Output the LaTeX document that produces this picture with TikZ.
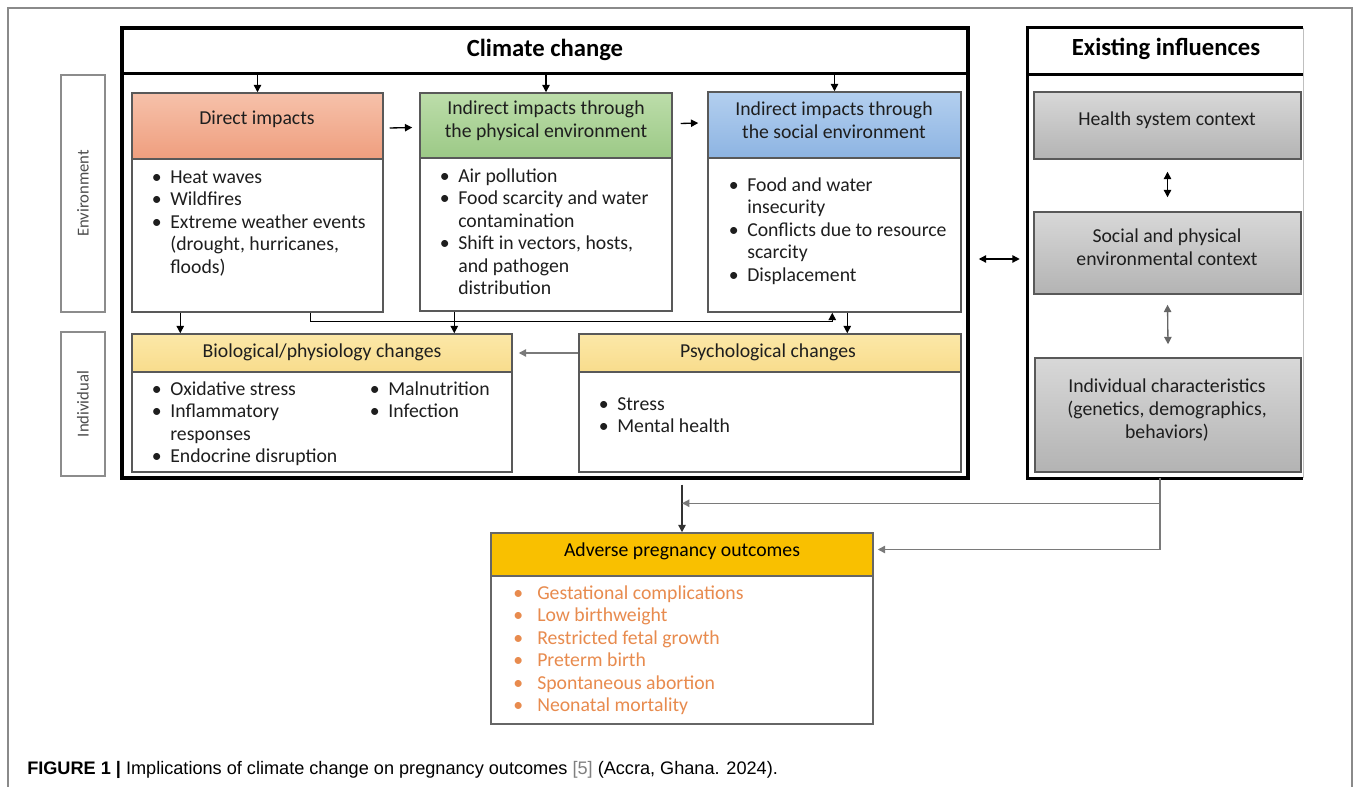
\documentclass[tikz,border=0pt]{standalone}
\usepackage{fontspec}
\setmainfont{Carlito}
\newfontfamily\capfont{Liberation Sans}
\usetikzlibrary{arrows.meta,fit,calc}
\definecolor{bord}{HTML}{595959}
\definecolor{tx}{HTML}{1E1E1E}
\definecolor{dirT}{HTML}{F6C1AA}
\definecolor{dirB}{HTML}{EF9E7E}
\definecolor{grT}{HTML}{BCDDAA}
\definecolor{grB}{HTML}{9CC986}
\definecolor{blT}{HTML}{B3CFEF}
\definecolor{blB}{HTML}{8DB4E2}
\definecolor{yelT}{HTML}{FCE8A8}
\definecolor{yelB}{HTML}{F8DC8C}
\definecolor{gyT}{HTML}{D8D8D8}
\definecolor{gyB}{HTML}{B3B3B3}
\definecolor{advY}{HTML}{F9C000}
\definecolor{org}{HTML}{E88B4E}
\definecolor{frame}{HTML}{8A8A8A}
\definecolor{lbord}{HTML}{8C8C8C}
\definecolor{conn}{HTML}{7A7A7A}
\definecolor{capgray}{HTML}{808080}
\newcommand{\bu}{\makebox[13.9pt][l]{\textbullet}}
\newcommand{\ind}{\hspace*{13.9pt}}
\newcommand{\bua}{\makebox[18pt][l]{\textbullet}}
\begin{document}
\begin{tikzpicture}[x=0.75pt,y=-0.75pt,
  box/.style={draw=bord,line width=1.1pt,inner sep=0pt},
  arr/.style={-{Triangle[length=5.5pt,width=5.5pt]},line width=1pt,draw=black},
  garr/.style={-{Triangle[length=5.5pt,width=5.5pt]},line width=1pt,draw=conn},
  darr/.style={{Triangle[length=5.5pt,width=5.5pt]}-{Triangle[length=5.5pt,width=5.5pt]},line width=1pt},
  txt/.style={font=\fontsize{14.8}{16.9}\selectfont,text=tx,inner sep=0pt},
  lst/.style={txt,align=left,anchor=north west},
  hd/.style={txt,align=center},
  ttl/.style={font=\bfseries\fontsize{18.5}{22}\selectfont,text=black,inner sep=0pt},
  side/.style={draw=lbord,line width=1pt,inner sep=0pt},
  sidet/.style={rotate=90,font=\fontsize{12.5}{14}\selectfont,text=black!70,inner sep=0pt},
]
\useasboundingbox (0,0) rectangle (1355,787);
\fill[white] (0,0) rectangle (1355,787);
% outer frame
\draw[frame,line width=0.8pt] (8,787) -- (8,8) -- (1352,8) -- (1352,787);

% side labels
\node[side,fit={(61,75)(105,312)}] (envbox) {};
\node[sidet] (envt) at (envbox.center) {Environment};
\node[side,fit={(61,332)(105,476)}] (indbox) {};
\node[sidet] (indt) at (indbox.center) {Individual};

% climate change box
\node[draw=black,line width=2.6pt,inner sep=0pt,fit={(122,28)(968,478)}] (cc) {};
\coordinate (ccl) at ($(cc.north west)+(0,47)$);
\coordinate (ccr) at ($(cc.north east)+(0,47)$);
\draw[line width=2.6pt] (ccl) -- (ccr);
\node[ttl] (cct) at (545,50) {Climate change};

% existing influences box
\node[inner sep=0pt,fit={(1028,28)(1303,478)}] (ex) {};
\draw[line width=2.6pt] (ex.north east) -- (ex.north west) -- (ex.south west) -- (ex.south east);
\draw[black!25,line width=0.8pt] (ex.north east) -- (ex.south east);
\coordinate (exl) at ($(ex.north west)+(0,47)$);
\coordinate (exr) at ($(ex.north east)+(0,47)$);
\draw[line width=2.6pt] (exl) -- (exr);
\node[ttl] (ext) at (1166,49) {Existing influences};

% environment row
\node[box,fill=white,fit={(132,159)(383,312)}] (dirB) {};
\node[box,top color=dirT,bottom color=dirB,fit={(132,93)(383,159)}] (dirH) {};
\node[box,fill=white,fit={(420,158)(672,311)}] (physB) {};
\node[box,top color=grT,bottom color=grB,fit={(420,93)(672,158)}] (physH) {};
\node[box,fill=white,fit={(708,158)(961,312)}] (socB) {};
\node[box,top color=blT,bottom color=blB,fit={(708,92)(961,158)}] (socH) {};

\node[hd] (dirHt) at (257,119) {Direct impacts};
\node[hd] (physHt) at (546,121) {Indirect impacts through\\the physical environment};
\node[hd] (socHt) at (834,120) {Indirect impacts through\\the social environment};

\node[lst] (dirL) at (151.5,167) {\strut\bu Heat waves\\\bu Wildfires\\\bu Extreme weather events\\\ind(drought, hurricanes,\\\ind floods)};
\node[lst] (physL) at (439.5,166) {\strut\bu Air pollution\\\bu Food scarcity and water\\\ind contamination\\\bu Shift in vectors, hosts,\\\ind and pathogen\\\ind distribution};
\node[lst] (socL) at (728.5,175) {\strut\bu Food and water\\\ind insecurity\\\bu Conflicts due to resource\\\ind scarcity\\\bu Displacement};

% individual row
\node[box,fill=white,fit={(132,372)(512,472)}] (bioB) {};
\node[box,top color=yelT,bottom color=yelB,fit={(132,334)(512,372)}] (bioH) {};
\node[box,fill=white,fit={(579,372)(961,472)}] (psyB) {};
\node[box,top color=yelT,bottom color=yelB,fit={(579,334)(961,372)}] (psyH) {};
\node[hd] (bioHt) at (322,352) {Biological/physiology changes};
\node[hd] (psyHt) at (768,352) {Psychological changes};
\node[lst] (bioL) at (151.5,379) {\strut\bu Oxidative stress\\\bu Inflammatory\\\ind responses\\\bu Endocrine disruption};
\node[lst] (bioR) at (369.5,379) {\strut\bu Malnutrition\\\bu Infection};
\node[lst] (psyL) at (598.5,394) {\strut\bu Stress\\\bu Mental health};

% existing influences boxes
\node[box,top color=gyT,bottom color=gyB,fit={(1034,92)(1301,159)}] (hs) {};
\node[box,top color=gyT,bottom color=gyB,fit={(1034,212)(1301,294)}] (spc) {};
\node[box,top color=gyT,bottom color=gyB,fit={(1035,358)(1301,472)}] (ic) {};
\node[hd] (hst) at (1167,120) {Health system context};
\node[hd] (spct) at (1167,247) {Social and physical\\environmental context};
\node[hd] (ict) at (1167,410) {Individual characteristics\\(genetics, demographics,\\behaviors)};

% adverse outcomes
\node[box,fill=white,draw=black!60,fit={(491,576)(873,724)}] (advB) {};
\node[box,fill=advY,draw=black!60,fit={(491,533)(873,576)}] (advH) {};
\node[hd,text=black] (advHt) at (682,551) {Adverse pregnancy outcomes};
\node[lst,text=org] (advL) at (513,583) {\strut\bua Gestational complications\\\bua Low birthweight\\\bua Restricted fetal growth\\\bua Preterm birth\\\bua Spontaneous abortion\\\bua Neonatal mortality};

% connectors: climate change to the three impact boxes
\draw[arr] (ccl -| dirH.north) -- (dirH.north);
\draw[arr] (ccl -| physH.north) -- (physH.north);
\draw[arr] (ccl -| socH.north) -- (socH.north);
\draw[arr] ($(dirH.east)+(6,2)$) -- ($(physH.west)+(-7,2)$);
\draw[arr] ($(physH.east)+(8,-2)$) -- ($(socH.west)+(-9,-2)$);

% environment to individual
\draw[arr] ($(dirB.south west)+(49,0)$) -- ($(bioH.north west)+(49,0)$);
\draw[arr] ($(physB.south west)+(35,0)$) -- ($(bioH.north west)+(323,0)$);
\draw[arr] ($(dirB.south west)+(179,0)$) |- ($(socB.south west)+(125,9)$) -- ($(socB.south west)+(125,0)$);
\draw[arr] ($(socB.south west)+(140,0)$) -- ($(psyH.north west)+(269,0)$);
\draw[garr] (psyH.west) -- ($(bioH.east)+(6,0)$);

% climate change <-> existing influences
\draw[darr] ($(cc.east)+(9,6)$) -- ($(ex.west)+(-8,6)$);
\draw[darr] ($(hs.south)+(0,12)$) -- ($(spc.north)+(0,-14)$);
\draw[darr,draw=black!60] ($(spc.south)+(0,10)$) -- ($(ic.north)+(0,-13)$);

% to adverse outcomes
\coordinate (exb) at ($(ex.south)+(-5.5,25)$);
\draw[arr,draw=black!80] ($(cc.south -| advH.north)+(0,5)$) -- (advH.north);
\draw[garr] ($(ex.south)+(-5.5,0)$) |- ($(advH.east)+(4,-5)$);
\draw[garr] (exb) -- (exb -| advH.north);

% caption
\node[anchor=west,inner sep=0pt,font=\capfont\fontsize{13.6}{15}\selectfont] (cap) at (27,770) {\textbf{FIGURE 1 |} Implications of climate change on pregnancy outcomes {\color{capgray}[5]} (Accra, Ghana. 2024).};
\end{tikzpicture}
\end{document}
